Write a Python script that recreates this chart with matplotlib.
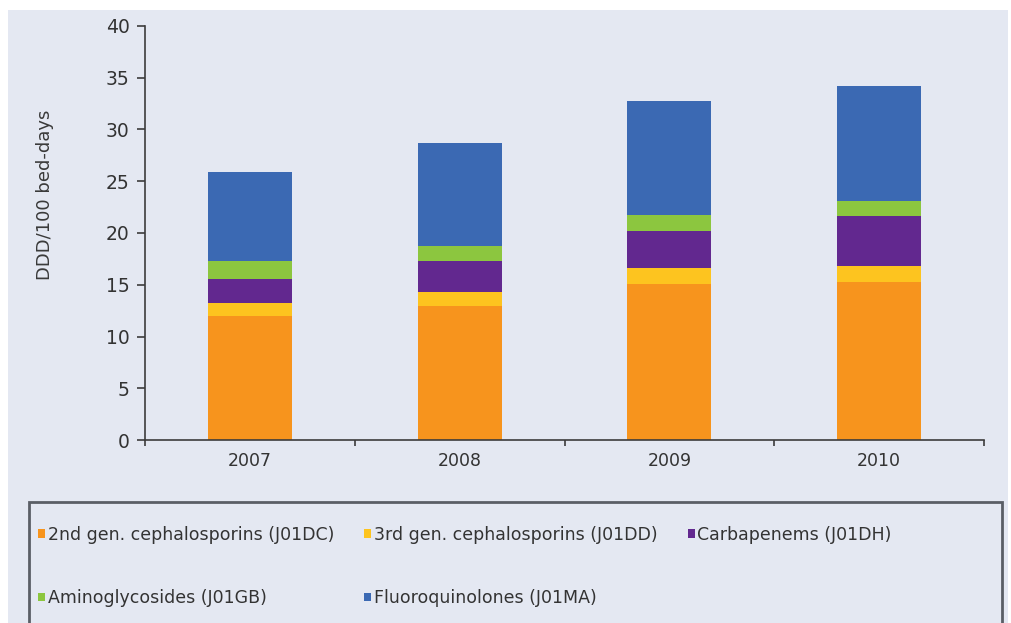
import matplotlib
matplotlib.use("Agg")
import matplotlib.pyplot as plt
from matplotlib.patches import Rectangle, Patch
import numpy as np

# data (DDD/100 bed-days)
years = ['2007', '2008', '2009', '2010']
ceph2 = [12.0, 12.9, 15.1, 15.3]
ceph3 = [1.2, 1.4, 1.5, 1.5]
carba = [2.4, 3.0, 3.6, 4.8]
amino = [1.7, 1.4, 1.5, 1.5]
fluoro = [8.6, 10.0, 11.1, 11.1]

labels = ['2nd gen. cephalosporins (J01DC)', '3rd gen. cephalosporins (J01DD)',
          'Carbapenems (J01DH)', 'Aminoglycosides (J01GB)', 'Fluoroquinolones (J01MA)']
colors = ['#f7941d', '#fdc41f', '#62288f', '#8cc63f', '#3b69b3']

bg = '#e4e8f2'
dark = '#3c3c3c'

fig = plt.figure(figsize=(10.11, 6.23), dpi=100, facecolor='white')
# light panel with thin white margin at top / left
fig.patches.append(Rectangle((8 / 1011, 0), 1000 / 1011, 613 / 623, transform=fig.transFigure,
                             facecolor=bg, edgecolor='none', zorder=-10))

ax = fig.add_axes([145 / 1011, 1 - 440 / 623, 839 / 1011, 414 / 623])
ax.set_facecolor(bg)
ax.patch.set_alpha(0)

x = np.arange(len(years))
series = [ceph2, ceph3, carba, amino, fluoro]
bottom = np.zeros(len(years))
for vals, col, lab in zip(series, colors, labels):
    ax.bar(x, vals, width=0.4, bottom=bottom, color=col, label=lab, linewidth=0)
    bottom += np.array(vals)

ax.set_xlim(-0.5, 3.5)
ax.set_ylim(0, 40)
ax.set_yticks(range(0, 41, 5))
ax.set_xticks(x)
ax.set_xticklabels(years)
ax.set_xticks(np.arange(-0.5, 3.6, 1), minor=True)

for s in ['top', 'right']:
    ax.spines[s].set_visible(False)
for s in ['left', 'bottom']:
    ax.spines[s].set_color(dark)
    ax.spines[s].set_linewidth(1.2)

ax.tick_params(axis='x', which='major', length=0, pad=9, labelsize=12.5, labelcolor='#333333')
ax.tick_params(axis='x', which='minor', length=4, width=1.2, color=dark)
ax.tick_params(axis='y', length=6, width=1.2, color=dark, pad=5, labelsize=13.5, labelcolor='#333333')

fig.text(45 / 1011, 1 - 195 / 623, 'DDD/100 bed-days', rotation=90, ha='center', va='center',
         fontsize=13, color='#3a3a3a')

# legend box
fig.patches.append(Rectangle((29 / 1011, -0.05), 973 / 1011, 0.05 + 121 / 623, transform=fig.transFigure,
                             facecolor='none', edgecolor='#5a5e66', linewidth=2, zorder=5))

handles = [Patch(facecolor=c, edgecolor='none') for c in colors]
# column-major fill so rows read: 2nd, 3rd, Carb / Amino, Fluoro
order = [0, 3, 1, 4, 2]
fig.legend([handles[i] for i in order], [labels[i] for i in order], ncol=3,
           loc='upper left', bbox_to_anchor=(38 / 1011, 1 - 526 / 623),
           frameon=False, fontsize=12.5, handlelength=0.4, handleheight=0.4,
           handletextpad=0.15, columnspacing=1.75, labelspacing=2.6,
           borderpad=0, borderaxespad=0, labelcolor='#333333')

fig.savefig('out.png', dpi=100, facecolor=fig.get_facecolor())
